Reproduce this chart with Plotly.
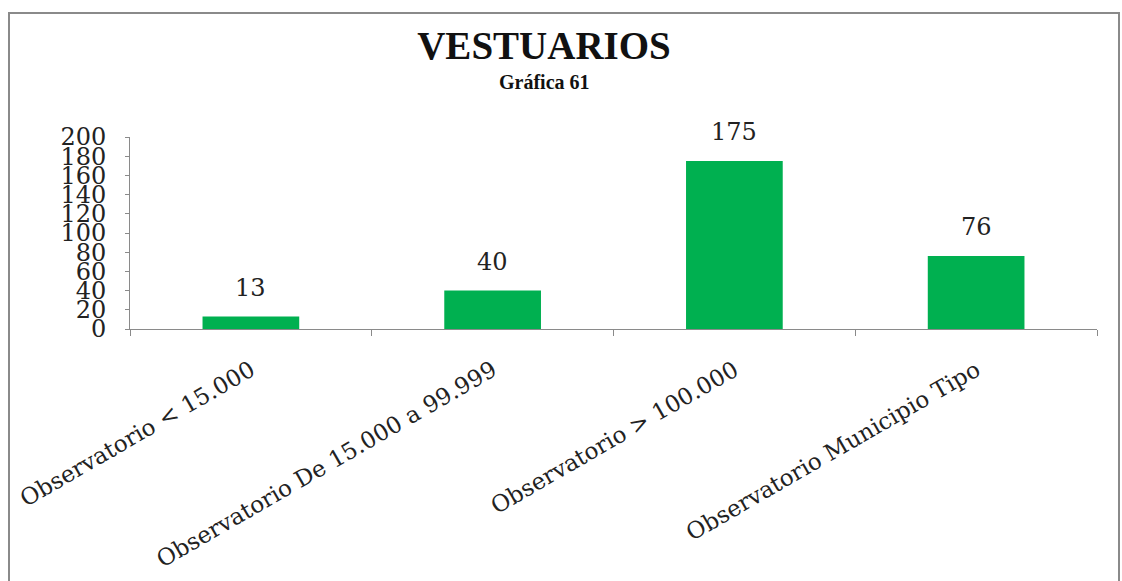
import plotly.graph_objects as go

categories = ["Observatorio < 15.000", "Observatorio De 15.000 a 99.999",
              "Observatorio > 100.000", "Observatorio Municipio Tipo"]
values = [13, 40, 175, 76]
y_ticks = [0, 20, 40, 60, 80, 100, 120, 140, 160, 180, 200]

W, H = 1122, 581
L, R, T, B = 130, 25, 137, 252
pw, ph = W - L - R, H - T - B

def px(x):
    return (x - L) / pw

def py(y):
    return (H - B - y) / ph

SERIF = "DejaVu Serif"

fig = go.Figure(go.Bar(
    x=categories, y=values, marker=dict(color="#00B050", line=dict(width=0)),
    width=0.4, hoverinfo="skip"))

for c, v in zip(categories, values):
    fig.add_annotation(x=c, y=v, text=str(v), showarrow=False, yanchor="middle",
                       yshift=29, font=dict(family=SERIF, size=24, color="#222"))

fig.add_annotation(xref="paper", yref="paper", x=px(544), y=py(82), yanchor="middle",
                   text="<b>Gráfica 61</b>",
                   showarrow=False, font=dict(family="Liberation Serif", size=20, color="#111"))

fig.add_shape(type="rect", xref="paper", yref="paper", x0=px(9), x1=px(1119), y0=py(600), y1=py(13),
              line=dict(color="#8a8a8a", width=2), fillcolor="rgba(0,0,0,0)")

fig.update_layout(
    width=W, height=H, margin=dict(l=L, r=R, t=T, b=B, autoexpand=False),
    paper_bgcolor="white", plot_bgcolor="white", showlegend=False,
    title=dict(text="<b>VESTUARIOS</b>", x=544 / W, xanchor="center", y=1 - 45 / H, yanchor="middle",
               font=dict(family="Liberation Serif", size=39, color="#111")),
    xaxis=dict(tickangle=-30, tickfont=dict(family=SERIF, size=23, color="#222"),
               showline=True, linecolor="#8a8a8a", linewidth=1, ticks="outside", ticklen=6,
               tickcolor="#8a8a8a", tickson="boundaries", showgrid=False, ticklabelstandoff=18),
    yaxis=dict(range=[0, 200], tickvals=y_ticks, ticktext=[str(t) for t in y_ticks],
               tickfont=dict(family=SERIF, size=24, color="#222"),
               showline=True, linecolor="#8a8a8a", linewidth=1, ticks="outside", ticklen=4,
               tickcolor="#8a8a8a", showgrid=False, zeroline=False, ticklabelstandoff=14),
)

fig.write_html("out.html", config={"displayModeBar": False},
               post_script="document.body.style.margin='0';document.body.style.overflow='hidden';")
